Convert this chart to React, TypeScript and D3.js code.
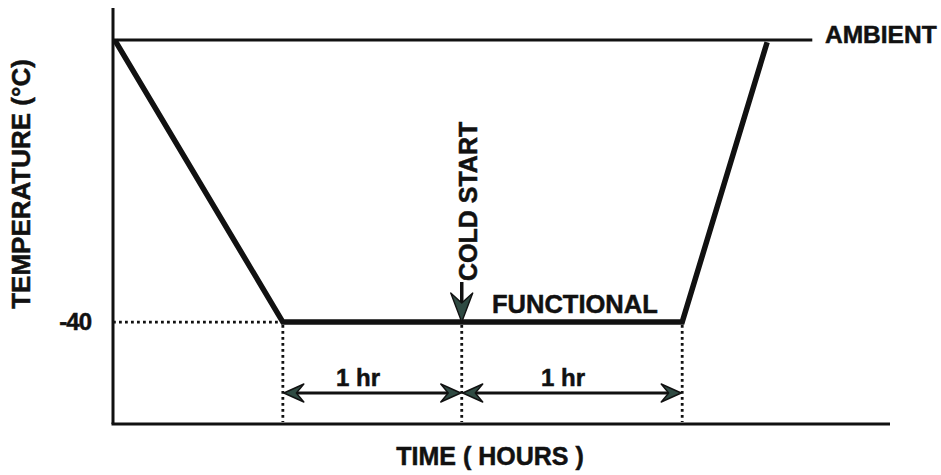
import React from "react";
import * as d3 from "d3";

// Schematic data (time in hours, temperature in °C)
const profileTime = [0.01, 0.94, 3.15, 3.62];
const profileTemp = [25, -40, -40, 24.5];
const ambientTemp = 25;
const ambientEnd = 3.87;
const functionalTemp = -40;
const markerTimes = [0.94, 1.93, 3.15]; // start of soak, cold start, end of soak
const coldStartTime = 1.93;
const spanLabels = ["1 hr", "1 hr"];
const yTickLabels = ["-40"];

const W = 941;
const H = 475;
const FONT = "'Liberation Sans', Arial, Helvetica, sans-serif";
const INK = "#111";
const HEAD = "#2f4a42";

export default function App() {
  const x = d3.scaleLinear().domain([0, 4.3]).range([113, 890]);
  const y = d3.scaleLinear().domain([-63.5, 32.4]).range([424, 8]);

  const line = d3
    .line<number>()
    .x((_, i) => x(profileTime[i]))
    .y((d) => y(d));

  const x0 = x(0);
  const yBase = y(-63.5);
  const yLow = y(functionalTemp);
  const yAmb = y(ambientTemp);
  const yDim = 393;

  const head = (tx: number, ty: number, angle: number, len = 20, half = 9, notch = 12.5) => {
    const p = d3.path();
    p.moveTo(0, 0);
    p.lineTo(-len, -half);
    p.lineTo(-notch, 0);
    p.lineTo(-len, half);
    p.closePath();
    return (
      <path
        d={p.toString()}
        transform={`translate(${tx},${ty}) rotate(${angle})`}
        fill={HEAD}
        stroke={INK}
        strokeWidth={1.4}
        strokeLinejoin="round"
      />
    );
  };

  const spans = [
    [markerTimes[0], markerTimes[1]],
    [markerTimes[1], markerTimes[2]],
  ];
  const spanLabelX = [336, 541];

  const xc = x(coldStartTime);

  return (
    <svg width={W} height={H} style={{ position: "absolute", left: 0, top: 0, background: "#fff" }}>
      {/* axes */}
      <line x1={x0} y1={y(32.4)} x2={x0} y2={yBase} stroke={INK} strokeWidth={3} />
      <line x1={x0 - 1.5} y1={yBase} x2={x(4.3)} y2={yBase} stroke={INK} strokeWidth={3.2} />

      {/* ambient line */}
      <line x1={x0} y1={yAmb} x2={x(ambientEnd)} y2={yAmb} stroke={INK} strokeWidth={3} />

      {/* -40 reference dotted */}
      <line x1={x0} y1={yLow} x2={x(markerTimes[0])} y2={yLow} stroke={INK} strokeWidth={2.8} strokeDasharray="2.8 3.2" />
      {markerTimes.map((t, i) => (
        <line key={i} x1={x(t)} y1={yLow + 3} x2={x(t)} y2={yBase - 2} stroke={INK} strokeWidth={2.8} strokeDasharray="2.8 3.2" />
      ))}

      {/* profile */}
      <path d={line(profileTemp) || ""} fill="none" stroke={INK} strokeWidth={5.5} strokeLinejoin="miter" />

      {/* dimension arrows */}
      {spans.map(([a, b], i) => (
        <g key={i}>
          <line x1={x(a) + 10} y1={yDim} x2={x(b) - 10} y2={yDim} stroke={INK} strokeWidth={2.8} />
          {head(x(a) + 1, yDim, 180)}
          {head(x(b) - 1, yDim, 0)}
        </g>
      ))}

      {/* cold start arrow */}
      <line x1={xc} y1={282} x2={xc} y2={305} stroke={INK} strokeWidth={3.5} />
      {head(xc, yLow, 90, 29, 11, 19)}

      {/* texts */}
      <g fontFamily={FONT} fontWeight="bold" fill={INK} stroke={INK} strokeWidth={0.5}>
        <text x={825} y={43} fontSize={24.5}>AMBIENT</text>
        <text x={492} y={313} fontSize={25.5}>FUNCTIONAL</text>
        <text transform={`translate(477,281) rotate(-90)`} fontSize={25}>COLD START</text>
        <text transform={`translate(30,184) rotate(-90)`} fontSize={26}>
          <tspan textAnchor="middle">TEMPERATURE (°C)</tspan>
        </text>
        <text x={490} y={465} fontSize={25} textAnchor="middle">TIME ( HOURS )</text>
        <text x={91} y={330} fontSize={24} textAnchor="end" letterSpacing={-1}>{yTickLabels[0]}</text>
        {spanLabels.map((s, i) => (
          <text key={i} x={spanLabelX[i]} y={386} fontSize={24}>{s}</text>
        ))}
      </g>
    </svg>
  );
}
